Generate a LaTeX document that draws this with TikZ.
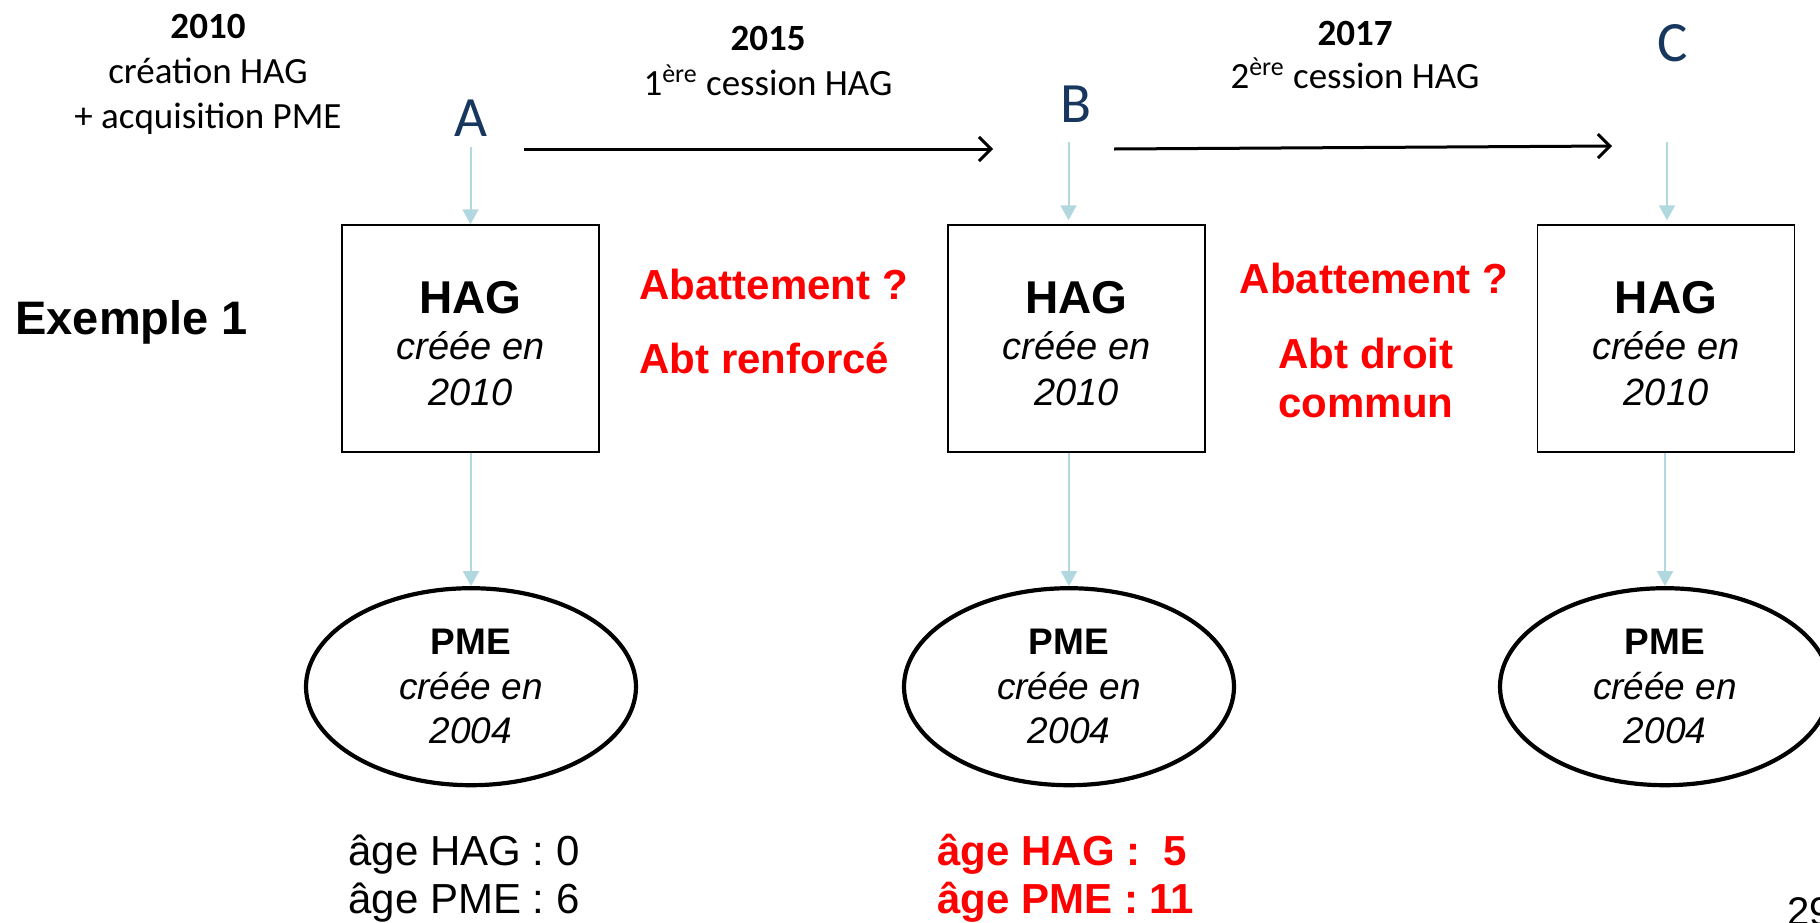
\documentclass[tikz,border=0pt]{standalone}
\usepackage{fontspec}
\setmainfont{Liberation Sans}
\newfontfamily\calibri{Carlito}
\usetikzlibrary{arrows.meta,shapes.geometric}
\definecolor{navy}{RGB}{23,55,94}
\definecolor{paleblue}{RGB}{176,216,222}
\definecolor{alert}{RGB}{255,0,0}

\begin{document}
\begin{tikzpicture}[x=0.5pt,y=-0.5pt,
  cal/.style={font=\calibri\fontsize{18.5}{22}\selectfont, inner sep=0pt, anchor=base},
  letter/.style={font=\calibri\fontsize{28.5}{30}\selectfont, text=navy, inner sep=0pt, anchor=base},
  hagbox/.style={draw, line width=0.75pt, minimum width=128.5pt, minimum height=113.5pt,
    inner sep=0pt, align=center, font=\fontsize{19}{23}\selectfont},
  pmeell/.style={draw, ellipse, line width=2.1pt, minimum width=165pt, minimum height=98.5pt,
    inner sep=0pt, align=center, font=\fontsize{18.5}{22.25}\selectfont},
  down/.style={draw=paleblue, line width=1pt, -{Triangle[length=7.5pt,width=8pt]}},
  timeline/.style={line width=1.5pt, -{Straight Barb[length=6pt,width=12pt]}},
  redtxt/.style={text=alert, font=\bfseries\fontsize{21}{25}\selectfont, inner sep=0pt},
  age/.style={font=\fontsize{21}{24}\selectfont, inner sep=0pt, anchor=base west},
]
\useasboundingbox (0,0) rectangle (1820,922);
\clip (0,0) rectangle (1820,922);

% dates and events
\node[cal] (y2010) at (208,38) {\bfseries 2010};
\node[cal] (e2010a) at (208,83) {création HAG};
\node[cal] (e2010b) at (208,128) {+ acquisition PME};
\node[cal] (y2015) at (768,50) {\bfseries 2015};
\node[cal] (e2015) at (768,95) {1\textsuperscript{ère} cession HAG};
\node[cal] (y2017) at (1355,45) {\bfseries 2017};
\node[cal] (e2017) at (1355,88) {2\textsuperscript{ère} cession HAG};

% stage letters
\node[letter] (lA) at (470.5,136) {A};
\node[letter] (lB) at (1076,122) {B};
\node[letter] (lC) at (1673,61) {C};

% time line
\coordinate (a0) at (524,149);
\coordinate (a1) at (993,149);
\coordinate (b0) at (1114,149);
\coordinate (b1) at (1612,146);
\draw[timeline] (a0) -- (a1);
\draw[timeline] (b0) -- (b1);

\node[anchor=base west, inner sep=0pt, font=\bfseries\fontsize{23.5}{26}\selectfont] (ex) at (15,334) {Exemple 1};

% holdings (the zero-width rule lowers the text block a little)
\node[hagbox] (hA) at (470.5,338.5) {\rule{0pt}{21.5pt}{\bfseries\fontsize{23}{23}\selectfont HAG}\\\textit{créée en}\\\textit{2010}};
\node[hagbox] (hB) at (1076.5,338.5) {\rule{0pt}{21.5pt}{\bfseries\fontsize{23}{23}\selectfont HAG}\\\textit{créée en}\\\textit{2010}};
\node[hagbox] (hC) at (1666,338.5) {\rule{0pt}{21.5pt}{\bfseries\fontsize{23}{23}\selectfont HAG}\\\textit{créée en}\\\textit{2010}};

% subsidiaries
\node[pmeell] (pA) at (471,686.7) {{\bfseries PME}\\\textit{créée en}\\\textit{2004}};
\node[pmeell] (pB) at (1069,686.7) {{\bfseries PME}\\\textit{créée en}\\\textit{2004}};
\node[pmeell] (pC) at (1665,686.7) {{\bfseries PME}\\\textit{créée en}\\\textit{2004}};

% links
\coordinate (dA) at (470.5,147);
\coordinate (dB) at (1068.5,142);
\coordinate (dC) at (1667,142);
\draw[down] (dA) -- (hA.north);
\draw[down, shorten >=2pt] (dB) -- (dB |- hB.north);
\draw[down, shorten >=2pt] (dC) -- (dC |- hC.north);
\draw[down] (pA.north |- hA.south) -- (pA.north);
\draw[down] (pB.north |- hB.south) -- (pB.north);
\draw[down] (pC.north |- hC.south) -- (pC.north);

% allowances
\node[redtxt, anchor=base west] (ab1) at (639,299) {Abattement ?};
\node[redtxt, anchor=base west] (ar1) at (639,373) {Abt renforcé};
\node[redtxt, anchor=base] (ab2) at (1374,293) {Abattement ?};
\node[redtxt, anchor=base] (ad2) at (1366,368) {Abt droit};
\node[redtxt, anchor=base] (cm2) at (1366,417) {commun};

% ages
\node[age] (gA1) at (348,865) {âge HAG : 0};
\node[age] (gA2) at (348,913) {âge PME : 6};
\node[age, text=alert, font=\bfseries\fontsize{21}{24}\selectfont] (gB1) at (937,865) {âge HAG :\ \ 5};
\node[age, text=alert, font=\bfseries\fontsize{21}{24}\selectfont] (gB2) at (937,913) {âge PME : 11};

\node[anchor=base west, inner sep=0pt, font=\fontsize{20}{22}\selectfont] (pg) at (1787,925) {29};
\end{tikzpicture}
\end{document}
